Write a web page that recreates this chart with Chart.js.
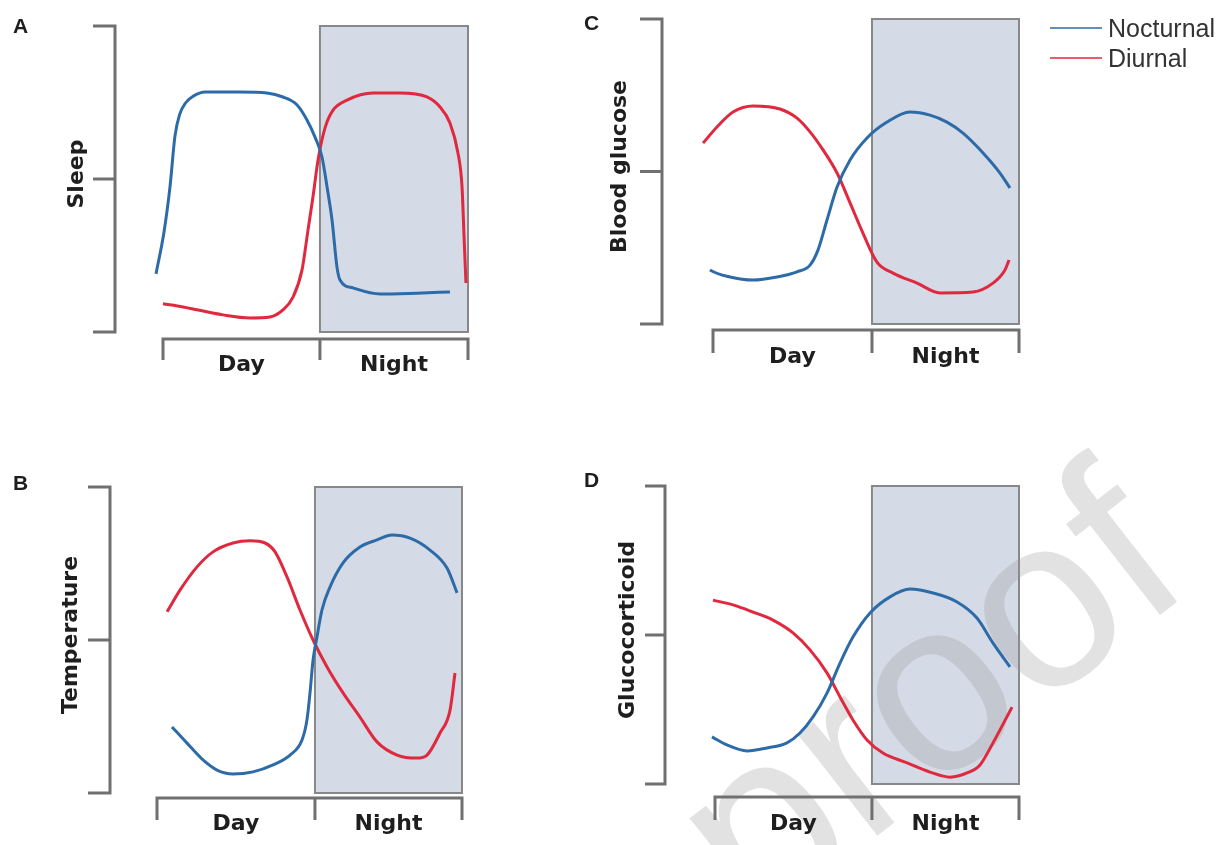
<!DOCTYPE html>
<html>
<head>
<meta charset="utf-8">
<script src="https://cdn.jsdelivr.net/npm/chart.js@4.4.1/dist/chart.umd.min.js"></script>
<style>
  body { margin: 0; background: #fff; overflow: hidden; }
  #wrap { position: relative; width: 1227px; height: 845px; }
  #wrap canvas { position: absolute; left: 0; top: 0; }
</style>
</head>
<body>
<div id="wrap">
  <canvas id="chartA" width="1227" height="845"></canvas>
  <canvas id="chartB" width="1227" height="845"></canvas>
  <canvas id="chartC" width="1227" height="845"></canvas>
  <canvas id="chartD" width="1227" height="845"></canvas>
</div>
<script>
// x = hours (0 = start of day, 24 = end of night), y = relative level (0..10)
const seriesNames = ['Nocturnal', 'Diurnal'];
const periodLabels = ['Day', 'Night'];
const yTicks = [0, 5, 10];
const dayStart = 0;
const dayEnd = 24;
const nightStart = [12.35, 12.43, 12.47, 12.39];

// A - Sleep
const sleepNocX = [-0.55, 0.08, 0.55, 0.94, 1.30, 1.80, 2.36, 3.31, 6.06, 8.18, 9.44, 10.55, 11.33, 11.96, 12.51, 12.91, 13.30, 13.69, 13.93, 14.95, 17.08, 19.99, 22.58];
const sleepNocY = [1.90, 3.27, 4.74, 6.40, 7.10, 7.50, 7.70, 7.84, 7.84, 7.81, 7.68, 7.42, 6.93, 6.37, 5.72, 4.74, 3.66, 2.12, 1.70, 1.44, 1.24, 1.27, 1.31];
const sleepDiuX = [0, 1.57, 4.72, 6.85, 8.42, 9.44, 10.23, 10.94, 11.41, 11.80, 12.20, 12.75, 13.38, 14.48, 16.53, 18.65, 20.77, 21.80, 22.58, 23.21, 23.53, 23.69, 23.84];
const sleepDiuY = [0.92, 0.82, 0.56, 0.46, 0.49, 0.72, 1.14, 2.03, 3.33, 4.41, 5.62, 6.67, 7.25, 7.58, 7.81, 7.81, 7.68, 7.35, 6.83, 5.85, 4.74, 3.10, 1.60];

// B - Temperature
const tempNocX = [1.18, 2.36, 3.62, 4.72, 5.98, 7.55, 9.13, 10.47, 11.41, 11.80, 12.04, 12.28, 12.59, 12.98, 13.61, 14.64, 15.97, 17.31, 18.49, 19.91, 21.48, 22.82, 23.61];
const tempNocY = [2.16, 1.63, 1.08, 0.75, 0.62, 0.69, 0.92, 1.24, 1.73, 2.39, 3.27, 4.35, 5.10, 5.98, 6.73, 7.52, 8.04, 8.27, 8.43, 8.33, 7.94, 7.35, 6.54];
const tempDiuX = [0.79, 1.81, 3.15, 4.41, 5.98, 7.32, 8.50, 9.29, 10.23, 11.25, 12.28, 13.38, 14.64, 15.97, 17.31, 18.89, 20.46, 21.25, 22.27, 23.06, 23.45];
const tempDiuY = [5.92, 6.63, 7.39, 7.88, 8.17, 8.24, 8.17, 7.88, 7.06, 5.98, 5.00, 4.12, 3.27, 2.48, 1.67, 1.24, 1.14, 1.24, 1.96, 2.71, 3.92];

// C - Blood glucose
const glucNocX = [-1.41, -0.24, 1.33, 3.14, 5.02, 6.59, 7.61, 8.24, 8.94, 9.73, 10.75, 12.08, 13.65, 15.45, 17.02, 18.35, 19.61, 21.18, 22.51, 23.29];
const glucNocY = [2.20, 1.77, 1.54, 1.44, 1.54, 1.71, 1.93, 2.43, 3.41, 4.49, 5.38, 6.10, 6.62, 6.95, 6.85, 6.62, 6.26, 5.61, 4.95, 4.46];
const glucDiuX = [-0.78, 0.31, 1.57, 3.14, 5.25, 6.59, 7.61, 8.63, 9.73, 10.75, 11.76, 12.86, 14.12, 16.00, 17.80, 20.39, 21.96, 22.90, 23.22];
const glucDiuY = [5.93, 6.46, 6.95, 7.15, 7.05, 6.75, 6.30, 5.71, 4.95, 3.97, 2.98, 2.03, 1.67, 1.34, 1.02, 1.05, 1.34, 1.77, 2.10];

// D - Glucocorticoid
const gcNocX = [-0.24, 0.95, 2.53, 4.11, 5.68, 6.71, 7.74, 8.84, 9.87, 10.89, 12.24, 13.82, 15.39, 17.21, 19.11, 20.68, 21.95, 23.29];
const gcNocY = [1.58, 1.31, 1.11, 1.21, 1.38, 1.71, 2.25, 3.05, 4.06, 4.93, 5.74, 6.28, 6.54, 6.41, 6.11, 5.57, 4.73, 3.93];
const gcDiuX = [-0.16, 1.42, 3.00, 4.58, 6.16, 7.50, 8.84, 9.87, 10.89, 12.00, 13.26, 15.16, 16.97, 18.55, 19.89, 20.92, 21.95, 23.45];
const gcDiuY = [6.17, 6.01, 5.77, 5.50, 5.07, 4.50, 3.73, 2.92, 2.15, 1.48, 1.04, 0.71, 0.40, 0.23, 0.37, 0.64, 1.38, 2.58];

const blue = '#2d6ba8';
const red = '#e0283e';

// layout of each panel on the page (pixels)
const panels = [
  { id: 'chartA', letter: 'A', title: 'Sleep', night: nightStart[0],
    nx: sleepNocX, ny: sleepNocY, dx: sleepDiuX, dy: sleepDiuY,
    L: 163, R: 468, T: 26, B: 332, yGap: 48, yTick: 22, xGap: 7, xTick: 21, labBase: 39, titleGap: 86,
    letterX: 13, letterY: 33 },
  { id: 'chartB', letter: 'B', title: 'Temperature', night: nightStart[1],
    nx: tempNocX, ny: tempNocY, dx: tempDiuX, dy: tempDiuY,
    L: 157, R: 462, T: 487, B: 793, yGap: 47, yTick: 22, xGap: 5, xTick: 22, labBase: 37, titleGap: 86,
    letterX: 13, letterY: 490 },
  { id: 'chartC', letter: 'C', title: 'Blood glucose', night: nightStart[2], legend: true,
    nx: glucNocX, ny: glucNocY, dx: glucDiuX, dy: glucDiuY,
    L: 713, R: 1019, T: 19, B: 324, yGap: 51, yTick: 22, xGap: 6, xTick: 23, labBase: 39, titleGap: 93,
    letterX: 584, letterY: 30 },
  { id: 'chartD', letter: 'D', title: 'Glucocorticoid', night: nightStart[3], watermark: true,
    nx: gcNocX, ny: gcNocY, dx: gcDiuX, dy: gcDiuY,
    L: 715, R: 1019, T: 486, B: 784, yGap: 50, yTick: 20, xGap: 13, xTick: 23, labBase: 46, titleGap: 87,
    letterX: 584, letterY: 487 }
];

const axisGray = '#707070';
const boldFont = 'bold 22px "DejaVu Sans"';

const panelDecor = {
  id: 'panelDecor',
  beforeDatasetsDraw(chart, args, opts) {
    const p = opts.panel;
    const { ctx } = chart;
    const xs = chart.scales.x, ys = chart.scales.y;
    const top = ys.getPixelForValue(yTicks[yTicks.length - 1]);
    const bot = ys.getPixelForValue(yTicks[0]);
    const sx = xs.getPixelForValue(dayStart);
    const nx = xs.getPixelForValue(p.night);
    const ex = xs.getPixelForValue(dayEnd);
    ctx.save();

    // night shading
    ctx.fillStyle = '#d4dae6';
    ctx.fillRect(nx, top, ex - nx, bot - top);
    ctx.strokeStyle = '#888888';
    ctx.lineWidth = 2;
    ctx.strokeRect(nx, top, ex - nx, bot - top);

    if (p.watermark) {
      ctx.save();
      ctx.translate(935, 705);
      ctx.rotate(-38 * Math.PI / 180);
      ctx.font = '245px "Liberation Sans"';
      ctx.textAlign = 'center';
      ctx.textBaseline = 'middle';
      ctx.fillStyle = 'rgba(150,150,150,0.28)';
      ctx.fillText('proof', 0, 0);
      ctx.restore();
    }

    // y bracket
    ctx.strokeStyle = axisGray;
    ctx.lineWidth = 3;
    ctx.lineJoin = 'miter';
    const yx = sx - p.yGap;
    ctx.beginPath();
    ctx.moveTo(yx - p.yTick, top);
    ctx.lineTo(yx, top);
    ctx.lineTo(yx, bot);
    ctx.lineTo(yx - p.yTick, bot);
    yTicks.slice(1, -1).forEach(v => {
      const py = ys.getPixelForValue(v);
      ctx.moveTo(yx - p.yTick, py);
      ctx.lineTo(yx, py);
    });
    ctx.stroke();

    // x bracket
    const by = bot + p.xGap;
    ctx.beginPath();
    ctx.moveTo(sx, by + p.xTick);
    ctx.lineTo(sx, by);
    ctx.lineTo(ex, by);
    ctx.lineTo(ex, by + p.xTick);
    ctx.moveTo(nx, by);
    ctx.lineTo(nx, by + p.xTick);
    ctx.stroke();

    // period labels
    ctx.fillStyle = '#1e1e1e';
    ctx.font = boldFont;
    ctx.textAlign = 'center';
    ctx.textBaseline = 'alphabetic';
    ctx.fillText(periodLabels[0], (sx + nx) / 2, bot + p.labBase);
    ctx.fillText(periodLabels[1], (nx + ex) / 2, bot + p.labBase);

    // y title
    ctx.save();
    ctx.translate(sx - p.titleGap, (top + bot) / 2 - 5);
    ctx.rotate(-Math.PI / 2);
    ctx.textBaseline = 'middle';
    ctx.fillText(p.title, 0, 0);
    ctx.restore();

    // panel letter
    ctx.textAlign = 'left';
    ctx.font = 'bold 21px "Liberation Sans"';
    ctx.fillText(p.letter, p.letterX, p.letterY);

    ctx.restore();
  },
  afterDraw(chart, args, opts) {
    const p = opts.panel;
    if (!p.legend) return;
    const { ctx } = chart;
    ctx.save();
    ctx.font = '25px "Liberation Sans"';
    ctx.textAlign = 'left';
    ctx.textBaseline = 'alphabetic';
    [blue, red].forEach((c, i) => {
      const ly = 28 + i * 30;
      ctx.strokeStyle = c;
      ctx.globalAlpha = 0.75;
      ctx.lineWidth = 2;
      ctx.beginPath();
      ctx.moveTo(1050, ly);
      ctx.lineTo(1102, ly);
      ctx.stroke();
      ctx.globalAlpha = 1;
      ctx.fillStyle = '#333333';
      ctx.fillText(seriesNames[i], 1108, ly + 9);
    });
    ctx.restore();
  }
};

function toPoints(xs, ys) {
  return xs.map((x, i) => ({ x: x, y: ys[i] }));
}

panels.forEach(p => {
  new Chart(document.getElementById(p.id), {
    type: 'line',
    data: {
      datasets: [
        { label: seriesNames[0], data: toPoints(p.nx, p.ny), borderColor: blue },
        { label: seriesNames[1], data: toPoints(p.dx, p.dy), borderColor: red }
      ]
    },
    options: {
      responsive: false,
      animation: false,
      events: [],
      layout: { padding: { left: p.L, right: 1227 - p.R, top: p.T, bottom: 845 - p.B } },
      elements: {
        point: { radius: 0 },
        line: { borderWidth: 3, cubicInterpolationMode: 'monotone', fill: false }
      },
      datasets: { line: { clip: false } },
      scales: {
        x: { type: 'linear', min: dayStart, max: dayEnd, display: false },
        y: { type: 'linear', min: yTicks[0], max: yTicks[yTicks.length - 1], display: false }
      },
      plugins: {
        legend: { display: false },
        tooltip: { enabled: false },
        panelDecor: { panel: p }
      }
    },
    plugins: [panelDecor]
  });
});
</script>
</body>
</html>
